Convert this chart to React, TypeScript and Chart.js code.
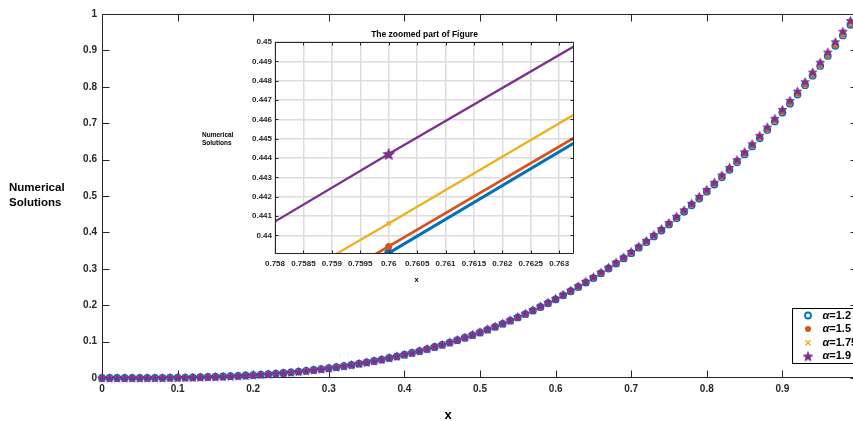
import React, { useEffect, useRef } from 'react';
import { Chart, registerables } from 'chart.js';

Chart.register(...registerables);

// ---------- main plot data ----------
const xValues = [
  0, 0.01, 0.02, 0.03, 0.04, 0.05, 0.06, 0.07, 0.08, 0.09,
  0.1, 0.11, 0.12, 0.13, 0.14, 0.15, 0.16, 0.17, 0.18, 0.19,
  0.2, 0.21, 0.22, 0.23, 0.24, 0.25, 0.26, 0.27, 0.28, 0.29,
  0.3, 0.31, 0.32, 0.33, 0.34, 0.35, 0.36, 0.37, 0.38, 0.39,
  0.4, 0.41, 0.42, 0.43, 0.44, 0.45, 0.46, 0.47, 0.48, 0.49,
  0.5, 0.51, 0.52, 0.53, 0.54, 0.55, 0.56, 0.57, 0.58, 0.59,
  0.6, 0.61, 0.62, 0.63, 0.64, 0.65, 0.66, 0.67, 0.68, 0.69,
  0.7, 0.71, 0.72, 0.73, 0.74, 0.75, 0.76, 0.77, 0.78, 0.79,
  0.8, 0.81, 0.82, 0.83, 0.84, 0.85, 0.86, 0.87, 0.88, 0.89,
  0.9, 0.91, 0.92, 0.93, 0.94, 0.95, 0.96, 0.97, 0.98, 0.99,
];

const alpha12 = [
  0.0000, 0.0000, 0.0000, 0.0000, 0.0001, 0.0001, 0.0002, 0.0003, 0.0005, 0.0007,
  0.0010, 0.0013, 0.0017, 0.0022, 0.0027, 0.0034, 0.0041, 0.0049, 0.0058, 0.0069,
  0.0080, 0.0093, 0.0106, 0.0122, 0.0138, 0.0156, 0.0176, 0.0197, 0.0220, 0.0244,
  0.0270, 0.0298, 0.0328, 0.0359, 0.0393, 0.0429, 0.0467, 0.0507, 0.0549, 0.0593,
  0.0640, 0.0689, 0.0741, 0.0795, 0.0852, 0.0911, 0.0973, 0.1038, 0.1106, 0.1176,
  0.1250, 0.1327, 0.1406, 0.1489, 0.1575, 0.1664, 0.1756, 0.1852, 0.1951, 0.2054,
  0.2160, 0.2270, 0.2383, 0.2500, 0.2621, 0.2746, 0.2875, 0.3008, 0.3144, 0.3285,
  0.3430, 0.3579, 0.3732, 0.3890, 0.4052, 0.4219, 0.4390, 0.4565, 0.4746, 0.4930,
  0.5120, 0.5314, 0.5514, 0.5718, 0.5927, 0.6141, 0.6361, 0.6585, 0.6815, 0.7050,
  0.7290, 0.7536, 0.7787, 0.8044, 0.8306, 0.8574, 0.8847, 0.9127, 0.9412, 0.9703,
];

const alpha15 = [
  0.0000, 0.0000, 0.0000, 0.0000, 0.0001, 0.0001, 0.0002, 0.0003, 0.0005, 0.0007,
  0.0010, 0.0013, 0.0017, 0.0022, 0.0027, 0.0034, 0.0041, 0.0049, 0.0058, 0.0069,
  0.0080, 0.0093, 0.0107, 0.0122, 0.0138, 0.0156, 0.0176, 0.0197, 0.0220, 0.0244,
  0.0270, 0.0298, 0.0328, 0.0360, 0.0393, 0.0429, 0.0467, 0.0507, 0.0549, 0.0594,
  0.0641, 0.0690, 0.0742, 0.0796, 0.0853, 0.0912, 0.0974, 0.1039, 0.1107, 0.1178,
  0.1251, 0.1328, 0.1407, 0.1490, 0.1576, 0.1665, 0.1758, 0.1854, 0.1953, 0.2056,
  0.2162, 0.2272, 0.2386, 0.2503, 0.2624, 0.2749, 0.2878, 0.3011, 0.3147, 0.3288,
  0.3433, 0.3583, 0.3736, 0.3894, 0.4056, 0.4223, 0.4394, 0.4570, 0.4750, 0.4935,
  0.5125, 0.5320, 0.5519, 0.5724, 0.5933, 0.6147, 0.6367, 0.6592, 0.6822, 0.7057,
  0.7297, 0.7543, 0.7795, 0.8052, 0.8314, 0.8582, 0.8856, 0.9136, 0.9421, 0.9713,
];

const alpha175 = [
  0.0000, 0.0000, 0.0000, 0.0000, 0.0001, 0.0001, 0.0002, 0.0003, 0.0005, 0.0007,
  0.0010, 0.0013, 0.0017, 0.0022, 0.0028, 0.0034, 0.0041, 0.0049, 0.0059, 0.0069,
  0.0080, 0.0093, 0.0107, 0.0122, 0.0139, 0.0157, 0.0176, 0.0198, 0.0220, 0.0245,
  0.0271, 0.0299, 0.0329, 0.0361, 0.0395, 0.0430, 0.0468, 0.0508, 0.0551, 0.0595,
  0.0642, 0.0692, 0.0744, 0.0798, 0.0855, 0.0915, 0.0977, 0.1042, 0.1110, 0.1181,
  0.1255, 0.1332, 0.1411, 0.1494, 0.1581, 0.1670, 0.1763, 0.1859, 0.1959, 0.2062,
  0.2168, 0.2278, 0.2392, 0.2510, 0.2631, 0.2757, 0.2886, 0.3019, 0.3156, 0.3298,
  0.3443, 0.3593, 0.3747, 0.3905, 0.4068, 0.4235, 0.4406, 0.4583, 0.4764, 0.4949,
  0.5139, 0.5335, 0.5535, 0.5740, 0.5950, 0.6165, 0.6385, 0.6610, 0.6841, 0.7076,
  0.7318, 0.7564, 0.7816, 0.8074, 0.8337, 0.8606, 0.8881, 0.9161, 0.9448, 0.9740,
];

const alpha19 = [
  0.0000, 0.0000, 0.0000, 0.0000, 0.0001, 0.0001, 0.0002, 0.0003, 0.0005, 0.0007,
  0.0010, 0.0013, 0.0017, 0.0022, 0.0028, 0.0034, 0.0041, 0.0050, 0.0059, 0.0069,
  0.0081, 0.0094, 0.0108, 0.0123, 0.0140, 0.0158, 0.0178, 0.0199, 0.0222, 0.0247,
  0.0273, 0.0301, 0.0332, 0.0364, 0.0398, 0.0434, 0.0472, 0.0513, 0.0555, 0.0600,
  0.0648, 0.0697, 0.0750, 0.0805, 0.0862, 0.0922, 0.0985, 0.1051, 0.1119, 0.1191,
  0.1265, 0.1342, 0.1423, 0.1507, 0.1594, 0.1684, 0.1777, 0.1874, 0.1975, 0.2078,
  0.2186, 0.2297, 0.2412, 0.2531, 0.2653, 0.2779, 0.2909, 0.3044, 0.3182, 0.3324,
  0.3471, 0.3622, 0.3777, 0.3937, 0.4101, 0.4269, 0.4442, 0.4620, 0.4802, 0.4990,
  0.5181, 0.5378, 0.5580, 0.5786, 0.5998, 0.6215, 0.6437, 0.6664, 0.6896, 0.7134,
  0.7377, 0.7626, 0.7880, 0.8140, 0.8405, 0.8676, 0.8953, 0.9236, 0.9525, 0.9819,
];

const xTicks = [0, 0.1, 0.2, 0.3, 0.4, 0.5, 0.6, 0.7, 0.8, 0.9, 1];
const yTicks = [0, 0.1, 0.2, 0.3, 0.4, 0.5, 0.6, 0.7, 0.8, 0.9, 1];
const legendLabels = ['α=1.2', 'α=1.5', 'α=1.75', 'α=1.9'];

// ---------- inset (zoomed) data ----------
const insetX = [0.75, 0.76, 0.77];
const insetAlpha12 = [0.42199, 0.43909, 0.45654];
const insetAlpha15 = [0.4223, 0.43943, 0.45665];
const insetAlpha175 = [0.42352, 0.44062, 0.45787];
const insetAlpha19 = [0.42676, 0.44421, 0.46127];
const insetXTicks = [0.758, 0.7585, 0.759, 0.7595, 0.76, 0.7605, 0.761, 0.7615, 0.762, 0.7625, 0.763];
const insetYTicks = [0.44, 0.441, 0.442, 0.443, 0.444, 0.445, 0.446, 0.447, 0.448, 0.449, 0.45];

const BLUE = '#0072BD';
const ORANGE = '#D95319';
const YELLOW = '#EDB120';
const PURPLE = '#7E2F8E';
const AXIS = '#262626';
const FONT = '"Liberation Sans", Arial, Helvetica, sans-serif';

function makeStar(R: number, color: string): HTMLCanvasElement {
  const size = Math.ceil(R * 2) + 2;
  const c = document.createElement('canvas');
  c.width = size;
  c.height = size;
  const ctx = c.getContext('2d')!;
  ctx.translate(size / 2, size / 2 + R * 0.1);
  ctx.beginPath();
  for (let i = 0; i < 10; i++) {
    const r = i % 2 === 0 ? R : R * 0.45;
    const a = -Math.PI / 2 + (i * Math.PI) / 5;
    ctx.lineTo(r * Math.cos(a), r * Math.sin(a));
  }
  ctx.closePath();
  ctx.fillStyle = color;
  ctx.fill();
  ctx.strokeStyle = color;
  ctx.lineWidth = 0.8;
  ctx.stroke();
  return c;
}

function drawBoxWithTicks(chart: any, xT: number[], yT: number[], len: number) {
  const { ctx, chartArea: a, scales } = chart;
  const L = Math.round(a.left) + 0.5;
  const R = Math.round(a.right) - 0.5;
  const T = Math.round(a.top) + 0.5;
  const B = Math.round(a.bottom) - 0.5;
  ctx.save();
  ctx.strokeStyle = AXIS;
  ctx.lineWidth = 1;
  ctx.beginPath();
  ctx.rect(L, T, R - L, B - T);
  for (const v of xT) {
    const px = Math.round(scales.x.getPixelForValue(v)) + 0.5;
    ctx.moveTo(px, B);
    ctx.lineTo(px, B - len);
    ctx.moveTo(px, T);
    ctx.lineTo(px, T + len);
  }
  for (const v of yT) {
    const py = Math.round(scales.y.getPixelForValue(v)) + 0.5;
    ctx.moveTo(L, py);
    ctx.lineTo(L + len, py);
    ctx.moveTo(R, py);
    ctx.lineTo(R - len, py);
  }
  ctx.stroke();
  ctx.restore();
}

export default function App() {
  const mainRef = useRef<HTMLCanvasElement>(null);
  const insetRef = useRef<HTMLCanvasElement>(null);

  useEffect(() => {
    const starMain = makeStar(4.5, PURPLE);
    const starLegend = makeStar(5, PURPLE);
    const starInset = makeStar(6, PURPLE);

    const mainDecor = {
      id: 'mainDecor',
      beforeDatasetsDraw(chart: any) {
        drawBoxWithTicks(chart, xTicks, yTicks, 7);
      },
      afterDraw(chart: any) {
        const { ctx, chartArea: a } = chart;
        ctx.save();
        ctx.fillStyle = '#000';
        ctx.font = `bold 13px ${FONT}`;
        ctx.textAlign = 'center';
        ctx.textBaseline = 'middle';
        ctx.fillText('x', a.left + 346, a.bottom + 37);
        ctx.font = `bold 11.5px ${FONT}`;
        ctx.textAlign = 'left';
        ctx.fillText('Numerical', 9, 188);
        ctx.fillText('Solutions', 9, 203);

        // legend
        const lx = Math.round(a.right) - 66 + 0.5;
        const ly = Math.round(a.bottom) - 70 + 0.5;
        ctx.fillStyle = '#fff';
        ctx.fillRect(lx, ly, 90, 55);
        ctx.strokeStyle = '#000';
        ctx.lineWidth = 1;
        ctx.strokeRect(lx, ly, 90, 55);
        for (let i = 0; i < legendLabels.length; i++) {
          const cy = ly + 7 + i * 13.6;
          const mx = lx + 15.5;
          ctx.save();
          if (i === 0) {
            ctx.beginPath();
            ctx.arc(mx, cy, 3, 0, Math.PI * 2);
            ctx.strokeStyle = BLUE;
            ctx.lineWidth = 1.8;
            ctx.stroke();
          } else if (i === 1) {
            ctx.beginPath();
            ctx.arc(mx, cy, 3, 0, Math.PI * 2);
            ctx.fillStyle = ORANGE;
            ctx.fill();
          } else if (i === 2) {
            ctx.beginPath();
            ctx.moveTo(mx - 2.5, cy - 2.5);
            ctx.lineTo(mx + 2.5, cy + 2.5);
            ctx.moveTo(mx + 2.5, cy - 2.5);
            ctx.lineTo(mx - 2.5, cy + 2.5);
            ctx.strokeStyle = YELLOW;
            ctx.lineWidth = 1.5;
            ctx.stroke();
          } else {
            ctx.drawImage(starLegend, mx - starLegend.width / 2, cy - starLegend.height / 2);
          }
          ctx.restore();
          const label = legendLabels[i];
          const first = label.charAt(0);
          const rest = label.slice(1);
          ctx.fillStyle = '#000';
          ctx.textBaseline = 'middle';
          ctx.textAlign = 'left';
          ctx.font = `italic bold 11px ${FONT}`;
          const tx = lx + 30;
          ctx.fillText(first, tx, cy);
          const w = ctx.measureText(first).width;
          ctx.font = `bold 11px ${FONT}`;
          ctx.fillText(rest, tx + w, cy);
        }
        ctx.restore();
      },
    };

    const tickFont = { family: FONT, weight: 'bold' as const, size: 10 };

    const main = new Chart(mainRef.current!, {
      type: 'scatter',
      data: {
        datasets: [
          {
            label: legendLabels[0],
            data: xValues.map((x, i) => ({ x, y: alpha12[i] })),
            pointStyle: 'circle',
            pointRadius: 3.2,
            borderColor: BLUE,
            backgroundColor: 'rgba(0,0,0,0)',
            borderWidth: 1.4,
            order: 3,
            clip: false,
          },
          {
            label: legendLabels[1],
            data: xValues.map((x, i) => ({ x, y: alpha15[i] })),
            pointStyle: 'circle',
            pointRadius: 2.6,
            borderColor: ORANGE,
            backgroundColor: ORANGE,
            borderWidth: 0,
            order: 2,
            clip: false,
          },
          {
            label: legendLabels[2],
            data: xValues.map((x, i) => ({ x, y: alpha175[i] })),
            pointStyle: 'crossRot',
            pointRadius: 2.5,
            borderColor: YELLOW,
            backgroundColor: YELLOW,
            borderWidth: 1.3,
            order: 1,
            clip: false,
          },
          {
            label: legendLabels[3],
            data: xValues.map((x, i) => ({ x, y: alpha19[i] })),
            pointStyle: starMain as any,
            pointRadius: 4.5,
            borderColor: PURPLE,
            backgroundColor: PURPLE,
            order: 0,
            clip: false,
          },
        ] as any,
      },
      options: {
        animation: false,
        responsive: false,
        events: [],
        layout: { padding: { top: 14, right: 12, left: 0, bottom: 0 } },
        plugins: { legend: { display: false }, tooltip: { enabled: false } },
        scales: {
          x: {
            type: 'linear',
            min: 0,
            max: 1,
            afterBuildTicks: (s: any) => {
              s.ticks = xTicks.map((v) => ({ value: v }));
            },
            afterFit: (s: any) => {
              s.height = 43;
            },
            grid: { display: false, drawTicks: false },
            border: { display: false },
            ticks: {
              padding: 5,
              font: tickFont,
              color: AXIS,
              maxRotation: 0,
              autoSkip: false,
              callback: (v: any) => String(v),
            },
          },
          y: {
            type: 'linear',
            min: 0,
            max: 1,
            afterBuildTicks: (s: any) => {
              s.ticks = yTicks.map((v) => ({ value: v }));
            },
            afterFit: (s: any) => {
              s.width = 102;
            },
            grid: { display: false, drawTicks: false },
            border: { display: false },
            ticks: {
              padding: 5,
              font: tickFont,
              color: AXIS,
              autoSkip: false,
              callback: (v: any) => String(v),
            },
          },
        },
      } as any,
      plugins: [mainDecor],
    });

    const insetDecor = {
      id: 'insetDecor',
      beforeDraw(chart: any) {
        const { ctx, chartArea: a } = chart;
        ctx.save();
        ctx.fillStyle = '#fff';
        ctx.fillRect(a.left, a.top, a.right - a.left, a.bottom - a.top);
        ctx.restore();
      },
      afterDraw(chart: any) {
        drawBoxWithTicks(chart, insetXTicks, insetYTicks, 3);
        const { ctx, chartArea: a } = chart;
        ctx.save();
        ctx.fillStyle = '#000';
        ctx.textBaseline = 'middle';
        ctx.textAlign = 'center';
        ctx.font = `bold 8.5px ${FONT}`;
        ctx.fillText('The zoomed part of Figure', (a.left + a.right) / 2, a.top - 7);
        ctx.font = `bold 7.5px ${FONT}`;
        ctx.fillText('x', (a.left + a.right) / 2 - 8, a.bottom + 26);
        ctx.font = `bold 6.5px ${FONT}`;
        ctx.textAlign = 'left';
        ctx.fillText('Numerical', a.left - 73, 110);
        ctx.fillText('Solutions', a.left - 73, 118);
        ctx.restore();
      },
    };

    const insetTickFont = { family: FONT, weight: 'bold' as const, size: 8 };

    const inset = new Chart(insetRef.current!, {
      type: 'scatter',
      data: {
        datasets: [
          {
            label: legendLabels[3],
            data: insetX.map((x, i) => ({ x, y: insetAlpha19[i] })),
            showLine: true,
            borderColor: PURPLE,
            borderWidth: 2.3,
            pointStyle: starInset as any,
            pointRadius: [0, 6, 0],
            pointBackgroundColor: PURPLE,
            pointBorderColor: PURPLE,
            order: 0,
          },
          {
            label: legendLabels[2],
            data: insetX.map((x, i) => ({ x, y: insetAlpha175[i] })),
            showLine: true,
            borderColor: YELLOW,
            borderWidth: 2.3,
            pointStyle: 'crossRot',
            pointRadius: [0, 2.8, 0],
            pointBorderWidth: 2,
            pointBackgroundColor: YELLOW,
            pointBorderColor: YELLOW,
            order: 1,
          },
          {
            label: legendLabels[1],
            data: insetX.map((x, i) => ({ x, y: insetAlpha15[i] })),
            showLine: true,
            borderColor: ORANGE,
            borderWidth: 2.7,
            pointStyle: 'circle',
            pointRadius: [0, 3.5, 0],
            pointBorderWidth: 0,
            pointBackgroundColor: ORANGE,
            pointBorderColor: ORANGE,
            order: 2,
          },
          {
            label: legendLabels[0],
            data: insetX.map((x, i) => ({ x, y: insetAlpha12[i] })),
            showLine: true,
            borderColor: BLUE,
            borderWidth: 3.2,
            pointStyle: 'circle',
            pointRadius: [0, 4.5, 0],
            pointBorderWidth: 0,
            pointBackgroundColor: BLUE,
            pointBorderColor: BLUE,
            order: 3,
          },
        ] as any,
      },
      options: {
        animation: false,
        responsive: false,
        events: [],
        layout: { padding: { top: 17, right: 11, left: 0, bottom: 0 } },
        plugins: { legend: { display: false }, tooltip: { enabled: false } },
        scales: {
          x: {
            type: 'linear',
            min: 0.758,
            max: 0.76326,
            afterBuildTicks: (s: any) => {
              s.ticks = insetXTicks.map((v) => ({ value: v }));
            },
            afterFit: (s: any) => {
              s.height = 41;
            },
            grid: { display: true, drawTicks: false, color: '#dcdcdc', lineWidth: 1.5 },
            border: { display: false },
            ticks: {
              padding: 5,
              font: insetTickFont,
              color: AXIS,
              maxRotation: 0,
              autoSkip: false,
              callback: (v: any) => String(v),
            },
          },
          y: {
            type: 'linear',
            min: 0.43904,
            max: 0.45,
            afterBuildTicks: (s: any) => {
              s.ticks = insetYTicks.map((v) => ({ value: v }));
            },
            afterFit: (s: any) => {
              s.width = 90;
            },
            grid: { display: true, drawTicks: false, color: '#dcdcdc', lineWidth: 1.5 },
            border: { display: false },
            ticks: {
              padding: 3,
              font: insetTickFont,
              color: AXIS,
              autoSkip: false,
              callback: (v: any) => String(v),
            },
          },
        },
      } as any,
      plugins: [insetDecor],
    });

    return () => {
      main.destroy();
      inset.destroy();
    };
  }, []);

  return (
    <div
      style={{
        position: 'absolute',
        left: 0,
        top: 0,
        width: 853,
        height: 421,
        overflow: 'hidden',
        background: '#fff',
      }}
    >
      <canvas
        ref={mainRef}
        width={870}
        height={421}
        style={{ position: 'absolute', left: 0, top: 0, width: 870, height: 421 }}
      />
      <canvas
        ref={insetRef}
        width={400}
        height={270}
        style={{ position: 'absolute', left: 185, top: 25, width: 400, height: 270 }}
      />
    </div>
  );
}
